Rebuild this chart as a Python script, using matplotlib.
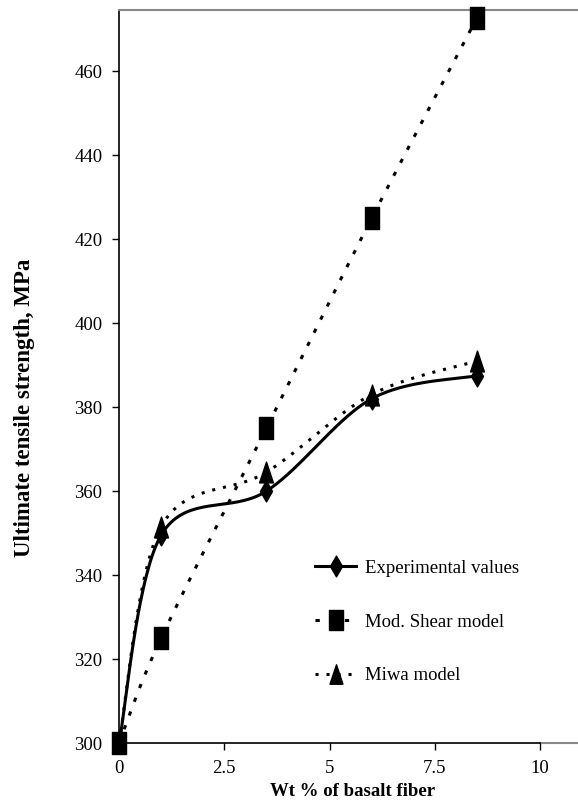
import numpy as np
import matplotlib
matplotlib.use("Agg")
import matplotlib.pyplot as plt
from matplotlib.path import Path
from matplotlib.lines import Line2D

wt = [0, 1, 3.5, 6, 8.5]
experimental = [300, 349.5, 360, 382, 387.5]
mod_shear = [300, 325, 375, 425, 472.7]
miwa = [300, 351.5, 364.5, 383, 391]
xticks = [0, 2.5, 5, 7.5, 10]
xticklabels = ["0", "2.5", "5", "7.5", "10"]
yticks = [300, 320, 340, 360, 380, 400, 420, 440, 460]

plt.rcParams['font.family'] = ['Liberation Serif', 'DejaVu Serif']


def smooth(x, y, n=40):
    P = np.column_stack([x, y]).astype(float)
    out = [P[0]]
    for i in range(len(P) - 1):
        p0 = P[i - 1] if i > 0 else P[i]
        p1 = P[i]
        p2 = P[i + 1]
        p3 = P[i + 2] if i + 2 < len(P) else P[i + 1]
        c1 = p1 + (p2 - p0) / 6.0
        c2 = p2 - (p3 - p1) / 6.0
        t = np.linspace(0, 1, n)[1:, None]
        seg = ((1 - t) ** 3) * p1 + 3 * ((1 - t) ** 2) * t * c1 + 3 * (1 - t) * t ** 2 * c2 + t ** 3 * p2
        out.extend(seg)
    out = np.array(out)
    return out[:, 0], out[:, 1]


rect = Path([(-1, -1.5), (1, -1.5), (1, 1.5), (-1, 1.5), (-1, -1.5)],
            [Path.MOVETO, Path.LINETO, Path.LINETO, Path.LINETO, Path.CLOSEPOLY])
diamond = Path([(0, -1.3), (0.75, 0), (0, 1.3), (-0.75, 0), (0, -1.3)],
               [Path.MOVETO, Path.LINETO, Path.LINETO, Path.LINETO, Path.CLOSEPOLY])
tri = Path([(0, 1.5), (1, -1.5), (-1, -1.5), (0, 1.5)],
           [Path.MOVETO, Path.LINETO, Path.LINETO, Path.CLOSEPOLY])

fig = plt.figure(figsize=(5.78, 8.05), dpi=100)
ax = fig.add_axes([119 / 578, 62 / 805, 1 - 119 / 578, 733 / 805])
ax.set_xlim(0, 10.9)
ax.set_ylim(300, 474.6)

dot_shear = (0, (1.4, 3.4))
dot_miwa = (0, (1.0, 2.6))

ex, ey = smooth(wt, experimental)
ax.plot(ex, ey, color='black', lw=2.2, solid_capstyle='butt', zorder=3)

mx, my = smooth(wt, miwa)
ax.plot(mx, my, color='black', lw=2.2, linestyle=dot_miwa, dash_capstyle='butt', zorder=3)
ax.plot(wt, miwa, linestyle='none', marker=tri, ms=15, color='black', clip_on=False, zorder=4)
ax.plot(wt, experimental, linestyle='none', marker=diamond, ms=15, color='black', clip_on=False, zorder=5)

sx, sy = smooth(wt, mod_shear)
ax.plot(sx, sy, color='black', lw=2.2, linestyle=dot_shear, dash_capstyle='butt', clip_on=False, zorder=3)
ax.plot(wt, mod_shear, linestyle='none', marker=rect, ms=16, color='black', clip_on=False, zorder=6)

handles = [
    Line2D([], [], color='black', lw=2.2, marker=diamond, ms=15),
    Line2D([], [], color='black', lw=2.2, linestyle=dot_shear, marker=rect, ms=15),
    Line2D([], [], color='black', lw=2.2, linestyle=dot_miwa, marker=tri, ms=14),
]
ax.legend(handles, ["Experimental values", "Mod. Shear model", "Miwa model"],
          loc='center left', bbox_to_anchor=((315 - 119) / 459, (743 - 622) / 733),
          frameon=False, fontsize=13.5, labelspacing=1.95, handlelength=2.2,
          handletextpad=0.45, borderpad=0, borderaxespad=0)

ax.set_xticks(xticks)
ax.set_xticklabels(xticklabels)
ax.set_yticks(yticks)
ax.tick_params(direction='out', length=5, width=1, labelsize=13.5, pad=7, colors='black')

ax.spines['right'].set_visible(False)
ax.spines['top'].set_color('#888888')
ax.spines['top'].set_linewidth(1.5)
ax.spines['left'].set_linewidth(1.2)
ax.spines['bottom'].set_linewidth(1.2)
ax.spines['bottom'].set_bounds(0, 10)
ax.plot([10, 10.9], [300, 300], color='#888888', lw=1.5, clip_on=False, zorder=1)

ax.set_xlabel("Wt % of basalt fiber", fontsize=13.5, fontweight='bold')
ax.xaxis.set_label_coords((353 - 119) / 459, -0.055)
ax.set_ylabel("Ultimate tensile strength, MPa", fontsize=16.5, fontweight='bold')
ax.yaxis.set_label_coords((35 - 119) / 459, (743 - 408) / 733)

fig.savefig("out.png", dpi=100)
